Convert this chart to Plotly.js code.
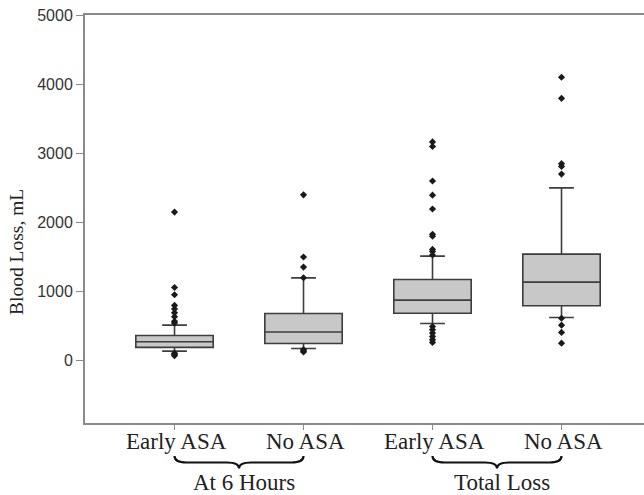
<!DOCTYPE html>
<html>
<head>
<meta charset="utf-8">
<script src="https://cdn.plot.ly/plotly-3.0.1.min.js"></script>
<style>html,body{margin:0;padding:0;background:#fff;overflow:hidden}#chart{width:644px;height:495px}</style>
</head>
<body>
<div id="chart"></div>
<script>
// ---- data ----
const groupLabels = ['Early ASA', 'No ASA', 'Early ASA', 'No ASA'];
const sectionLabels = ['At 6 Hours', 'Total Loss'];
const q1Values = [193, 250, 688, 795];
const medianValues = [275, 415, 877, 1137];
const q3Values = [366, 684, 1175, 1542];
const lowerFence = [140, 178, 539, 626];
const upperFence = [516, 1199, 1513, 2500];
const outliersEarly6h = [2150, 1060, 955, 800, 748, 693, 636, 570, 545, 110, 90, 72];
const outliersNo6h = [2400, 1500, 1355, 1200, 160, 140, 128];
const outliersEarlyTotal = [3165, 3100, 2600, 2395, 2195, 1830, 1800, 1610, 1580, 1530, 495, 450, 400, 352, 305, 265];
const outliersNoTotal = [4100, 3795, 2850, 2810, 2700, 615, 515, 410, 255];
const yTickVals = [0, 1000, 2000, 3000, 4000, 5000];

// ---- layout constants ----
const W = 644, H = 495;
const M = {l: 85, r: 0, t: 15, b: 72};
const XMIN = 0.306, XMAX = 4.6395;
const YMIN = -900, YMAX = 5000;
const plotH = H - M.t - M.b;
const pos = groupLabels.map((_, i) => i + 1);
const outlierGroups = [outliersEarly6h, outliersNo6h, outliersEarlyTotal, outliersNoTotal];

const ox = [], oy = [];
outlierGroups.forEach((arr, i) => arr.forEach(v => { ox.push(pos[i]); oy.push(v); }));

const serif = 'Liberation Serif, Times New Roman, serif';
const sans = 'Liberation Sans, Arial, sans-serif';
const axisGray = '#8a8a8a';

const boxTrace = {
  type: 'box',
  x: pos,
  q1: q1Values,
  median: medianValues,
  q3: q3Values,
  lowerfence: lowerFence,
  upperfence: upperFence,
  boxpoints: false,
  width: 0.6,
  whiskerwidth: 0.32,
  fillcolor: '#c8c8c8',
  line: {color: '#3d3d3d', width: 1.6},
  hoverinfo: 'skip',
  showlegend: false
};
const outlierTrace = {
  type: 'scatter', mode: 'markers', x: ox, y: oy,
  marker: {symbol: 'diamond', size: 5.5, color: '#1a1a1a'},
  showlegend: false, hoverinfo: 'skip', cliponaxis: false
};

// paper-coordinate helpers
const xp = x => (x - XMIN) / (XMAX - XMIN);
const yp = px => (H - M.b - px) / plotH;

function bracePath(xa, xb) {
  const x0 = xp(xa), x1 = xp(xb), xm = (x0 + x1) / 2;
  const d = 12 / (W - M.l - M.r);
  const ye = yp(456), yf = yp(462.5), yt = yp(468.5);
  return `M ${x0},${ye} Q ${x0},${yf} ${x0 + d},${yf} L ${xm - d},${yf} Q ${xm},${yf} ${xm},${yt} ` +
         `Q ${xm},${yf} ${xm + d},${yf} L ${x1 - d},${yf} Q ${x1},${yf} ${x1},${ye}`;
}

const shapes = [[pos[0], pos[1]], [pos[2], pos[3]]].map(([a, b]) => ({
  type: 'path', xref: 'paper', yref: 'paper', path: bracePath(a, b),
  line: {color: '#111', width: 2.2}, layer: 'above'
}));

const annotations = [
  {text: 'Blood Loss, mL', xref: 'paper', yref: 'paper', x: (17 - M.l) / (W - M.l - M.r), y: yp(252),
   textangle: -90, showarrow: false, xanchor: 'center', yanchor: 'middle',
   font: {family: serif, size: 19.5, color: '#222'}},
  ...sectionLabels.map((t, i) => ({
    text: t, xref: 'x', yref: 'paper', x: (pos[2 * i] + pos[2 * i + 1]) / 2, xshift: 5, y: yp(483),
    showarrow: false, xanchor: 'center', yanchor: 'middle',
    font: {family: serif, size: 23, color: '#222'}
  })),
  ...groupLabels.map((t, i) => ({
    text: t, xref: 'x', yref: 'paper', x: pos[i], xshift: 2, y: yp(441),
    showarrow: false, xanchor: 'center', yanchor: 'middle',
    font: {family: serif, size: 23, color: '#222'}
  }))
];

const layout = {
  width: W, height: H,
  margin: M,
  paper_bgcolor: '#fff', plot_bgcolor: '#fff',
  showlegend: false,
  xaxis: {
    range: [XMIN, XMAX], tickmode: 'array', tickvals: pos, showticklabels: false,
    showline: true, linecolor: axisGray, linewidth: 2, mirror: true,
    ticks: 'outside', ticklen: 5, tickwidth: 1, tickcolor: axisGray,
    showgrid: false, zeroline: false
  },
  yaxis: {
    range: [YMIN, YMAX], tickmode: 'array', tickvals: yTickVals,
    showline: true, linecolor: axisGray, linewidth: 2, mirror: false,
    ticks: 'outside', ticklen: 7, tickwidth: 1, tickcolor: axisGray,
    showgrid: false, zeroline: false,
    tickfont: {family: sans, size: 16, color: '#333'}
  },
  shapes: shapes,
  annotations: annotations
};

Plotly.newPlot('chart', [boxTrace, outlierTrace], layout, {displayModeBar: false, staticPlot: true});
</script>
</body>
</html>
